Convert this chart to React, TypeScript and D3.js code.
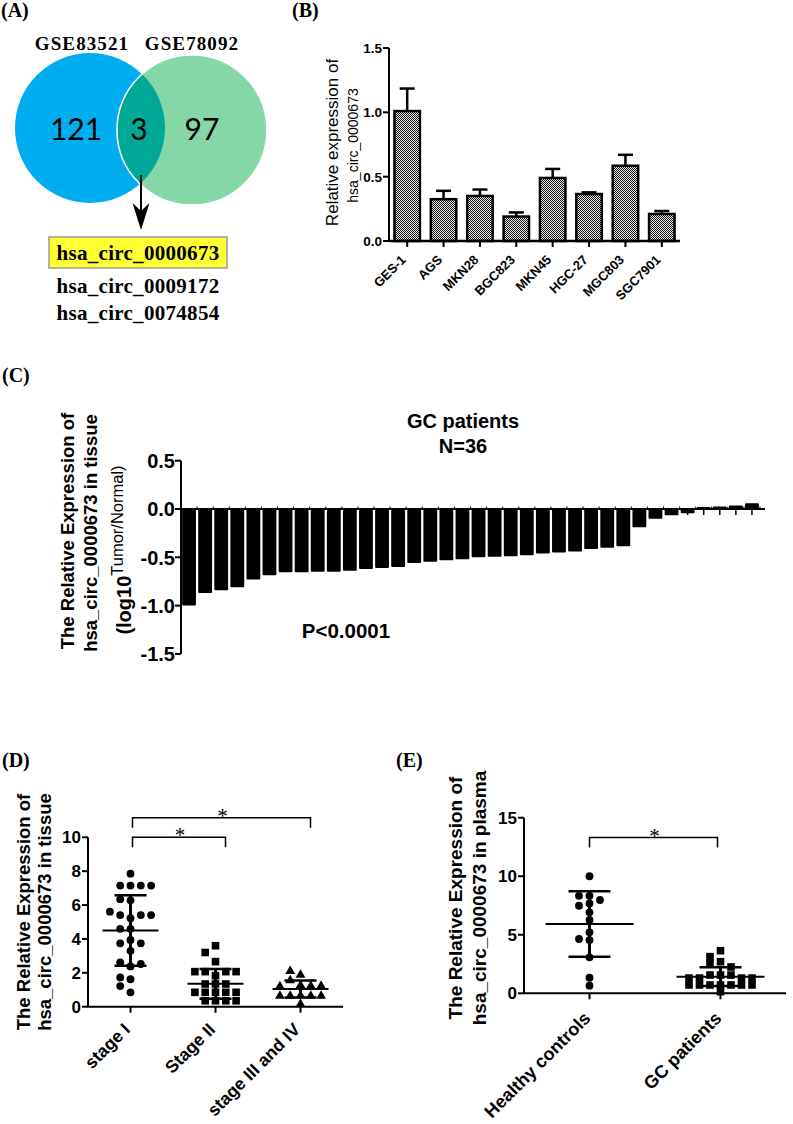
import React from 'react';
import * as d3 from 'd3';

const SANS = '"Liberation Sans", Arial, sans-serif';
const SERIF = '"Liberation Serif", "Times New Roman", serif';

// ---------- Panel A : Venn ----------
const vennSets = ['GSE83521', 'GSE78092'];
const vennOnly = [121, 97];
const vennShared = 3;
const sharedCircRNAs = ['hsa_circ_0000673', 'hsa_circ_0009172', 'hsa_circ_0074854'];

// ---------- Panel B : cell lines ----------
const cellLines = ['GES-1', 'AGS', 'MKN28', 'BGC823', 'MKN45', 'HGC-27', 'MGC803', 'SGC7901'];
const cellExpr = [1.01, 0.325, 0.35, 0.19, 0.49, 0.365, 0.585, 0.21];
const cellErr = [0.175, 0.065, 0.05, 0.032, 0.07, 0.013, 0.085, 0.023];
const cellTicks = [0, 0.5, 1.0, 1.5];

// ---------- Panel C : tissue log10 ratio ----------
const tissueLogRatio = [
  -1.0, -0.87, -0.84, -0.81, -0.73, -0.685, -0.655, -0.655, -0.65, -0.65, -0.64, -0.62,
  -0.61, -0.6, -0.56, -0.545, -0.53, -0.52, -0.5, -0.495, -0.49, -0.48, -0.46, -0.45,
  -0.44, -0.415, -0.4, -0.385, -0.19, -0.1, -0.065, -0.045, 0.02, 0.025, 0.035, 0.06,
];
const tissueTicks = [0.5, 0, -0.5, -1.0, -1.5];

// ---------- Panel D : stages ----------
const stageNames = ['stage I', 'Stage II', 'stage III and IV'];
const stageI = [7.85, 7.15, 7.15, 7.15, 7.15, 6.28, 6.35, 5.22, 5.41, 5.41, 5.41, 5.61, 4.6, 4.6,
  3.94, 3.74, 3.74, 3.3, 2.38, 2.62, 2.52, 1.62, 1.73, 1.22, 0.85];
const stageII = [3.6, 3.2, 2.66, 1.83, 2.07, 2.07, 2.07, 2.07, 1.34, 1.34, 1.34,
  0.85, 0.85, 0.85, 0.85, 0.85, 0.35, 0.35, 0.35, 0.35];
const stageIIIIV = [1.87, 2.1, 1.55, 1.25, 1.22, 1.22, 1.2, 0.65, 0.63, 0.63, 0.63, 0.63, 0.15];
const stageMeans = [4.5, 1.35, 1.05];
const stageSDs = [2.08, 0.88, 0.5];
const stageTicks = [0, 2, 4, 6, 8, 10];
const stageBrackets = [
  { from: 0, to: 1, level: 10.0 },
  { from: 0, to: 2, level: 11.16 },
];

// ---------- Panel E : plasma ----------
const plasmaGroups = ['Healthy controls', 'GC patients'];
const healthyPlasma = [10.0, 8.33, 8.33, 7.97, 7.68, 7.48, 6.92, 6.26, 5.21, 4.55, 4.64, 3.07, 1.33, 0.65];
const gcPlasma = [3.64, 3.13, 2.7, 2.56, 2.25, 1.56, 1.56, 1.56, 1.3, 1.3, 1.3, 1.3,
  0.71, 0.71, 0.71, 0.71, 0.71, 0.71, 0.71, 0.14];
const plasmaMeans = [5.92, 1.42];
const plasmaSDs = [2.8, 0.8];
const plasmaTicks = [0, 5, 10, 15];
const plasmaBrackets = [{ from: 0, to: 1, level: 13.3 }];

// simple column swarm (GraphPad-like)
function swarm(values: number[], y: (v: number) => number, cx: number, step: number, minDist: number) {
  const order = [0, -1, 1, 2, -2, 3, -3, 4, -4];
  const placed: { k: number; y: number }[] = [];
  return values.map((v) => {
    const py = y(v);
    for (const k of order) {
      if (!placed.some((p) => p.k === k && Math.abs(p.y - py) < minDist)) {
        placed.push({ k, y: py });
        return { x: cx + k * step, y: py };
      }
    }
    return { x: cx, y: py };
  });
}

function PanelLabel({ x, y, t }: { x: number; y: number; t: string }) {
  return (
    <text x={x} y={y} fontFamily={SERIF} fontWeight="bold" fontSize={20}>{t}</text>
  );
}

function PanelA() {
  const blue = { cx: 90, cy: 128, r: 75 };
  const green = { cx: 192, cy: 130, r: 75 };
  const lensX = (green.cx - green.r + blue.cx + blue.r) / 2;
  const numFont = "Lato, 'Open Sans', sans-serif";
  return (
    <g>
      <defs>
        <clipPath id="clipGreen">
          <circle cx={green.cx} cy={green.cy} r={green.r} />
        </clipPath>
      </defs>
      <circle {...blue} fill="#00AEEF" />
      <circle {...green} fill="#86D7A8" />
      <circle {...blue} fill="#00A896" clipPath="url(#clipGreen)" />
      <circle {...green} fill="none" stroke="#ffffff" strokeWidth={1.5} />
      <text x={82} y={50} textAnchor="middle" fontFamily={SERIF} fontWeight="bold" fontSize={19} letterSpacing={1.1}>{vennSets[0]}</text>
      <text x={192} y={50} textAnchor="middle" fontFamily={SERIF} fontWeight="bold" fontSize={19} letterSpacing={1.1}>{vennSets[1]}</text>
      <text x={76} y={140} textAnchor="middle" fontFamily={numFont} fontSize={30}>{vennOnly[0]}</text>
      <text x={139} y={140} textAnchor="middle" fontFamily={numFont} fontSize={30}>{vennShared}</text>
      <text x={202} y={140} textAnchor="middle" fontFamily={numFont} fontSize={30}>{vennOnly[1]}</text>
      <line x1={lensX} x2={lensX} y1={175} y2={214} stroke="#000" strokeWidth={2} />
      <path d={`M${lensX - 8.5},203 L${lensX},230 L${lensX + 8.5},203 L${lensX},211 Z`} fill="#000" />
      <rect x={49} y={237} width={178} height={31} fill="#FFFF33" stroke="#9a9a9a" strokeWidth={1.5} />
      {sharedCircRNAs.map((s, i) => (
        <text key={s} x={138} y={[259.5, 292.5, 319.5][i]} textAnchor="middle" fontFamily={SERIF} fontWeight="bold" fontSize={21} letterSpacing={0.3}>{s}</text>
      ))}
    </g>
  );
}

function PanelB() {
  const x0 = 389, x1 = 680, y0 = 241, y1 = 48;
  const bx = d3.scaleBand<string>().domain(cellLines).range([x0, x1]).paddingInner(0.3).paddingOuter(0.15);
  const by = d3.scaleLinear().domain([0, 1.5]).range([y0, y1]);
  const bw = bx.bandwidth();
  return (
    <g>
      <defs>
        <pattern id="hatch" width={2} height={2} patternUnits="userSpaceOnUse">
          <rect width={2} height={2} fill="#eeeeee" />
          <rect width={1} height={1} fill="#111" />
          <rect x={1} y={1} width={1} height={1} fill="#111" />
        </pattern>
      </defs>
      {cellLines.map((c, i) => {
        const x = bx(c)!;
        const cx = x + bw / 2;
        const top = by(cellExpr[i] + cellErr[i]);
        return (
          <g key={c}>
            <line x1={cx} x2={cx} y1={by(cellExpr[i])} y2={top} stroke="#000" strokeWidth={2.5} />
            <line x1={cx - 7.5} x2={cx + 7.5} y1={top} y2={top} stroke="#000" strokeWidth={2.5} />
            <rect x={x} y={by(cellExpr[i])} width={bw} height={y0 - by(cellExpr[i])} fill="url(#hatch)" stroke="#000" strokeWidth={2.5} />
          </g>
        );
      })}
      <line x1={x0} x2={x0} y1={y1} y2={y0} stroke="#000" strokeWidth={2} />
      <line x1={x0} x2={x1} y1={y0} y2={y0} stroke="#000" strokeWidth={2.5} />
      {cellTicks.map((t) => (
        <g key={t}>
          <line x1={x0 - 6} x2={x0} y1={by(t)} y2={by(t)} stroke="#000" strokeWidth={2} />
          <text x={x0 - 7} y={by(t)} dy="0.36em" textAnchor="end" fontFamily={SANS} fontWeight="bold" fontSize={13.5}>{d3.format('.1f')(t)}</text>
        </g>
      ))}
      {cellLines.map((c) => {
        const cx = bx(c)! + bw / 2;
        return (
          <g key={c}>
            <line x1={cx} x2={cx} y1={y0} y2={y0 + 6} stroke="#000" strokeWidth={2} />
            <text transform={`translate(${cx - 7},${y0 + 13}) rotate(-45)`} dy="0.71em" textAnchor="end" fontFamily={SANS} fontWeight="bold" fontSize={13}>{c}</text>
          </g>
        );
      })}
      <text transform="translate(338,142.5) rotate(-90)" textAnchor="middle" fontFamily={SANS} fontSize={17}>Relative expression of</text>
      <text transform="translate(358,145.5) rotate(-90)" textAnchor="middle" fontFamily={SANS} fontSize={14}>hsa_circ_0000673</text>
    </g>
  );
}

function PanelC() {
  const x0 = 181, x1 = 765;
  const cx = d3.scaleBand<number>().domain(d3.range(tissueLogRatio.length)).range([x0, 760]).paddingInner(0.14).paddingOuter(0.07);
  const cy = d3.scaleLinear().domain([-1.5, 0.5]).range([653.9, 460.7]);
  const bw = cx.bandwidth();
  const step = cx.step();
  const z = cy(0);
  return (
    <g>
      {tissueLogRatio.map((v, i) => (
        <line key={'t' + i} x1={cx(i)! + bw / 2} x2={cx(i)! + bw / 2} y1={z} y2={z + 6} stroke="#000" strokeWidth={1.5} />
      ))}
      {tissueLogRatio.map((v, i) => (
        <line key={'m' + i} x1={cx(i)! + bw + (step - bw) / 2} x2={cx(i)! + bw + (step - bw) / 2} y1={z - 2.5} y2={z} stroke="#000" strokeWidth={1} />
      ))}
      {tissueLogRatio.map((v, i) => (
        <rect key={i} x={cx(i)!} y={Math.min(cy(v), z)} width={bw} height={Math.abs(cy(v) - z)} rx={1} fill="#000" />
      ))}
      <line x1={x0} x2={x1} y1={z} y2={z} stroke="#000" strokeWidth={2} />
      <line x1={x0} x2={x0} y1={cy(0.5)} y2={cy(-1.5)} stroke="#000" strokeWidth={2} />
      {tissueTicks.map((t) => (
        <g key={t}>
          <line x1={x0 - 6} x2={x0} y1={cy(t)} y2={cy(t)} stroke="#000" strokeWidth={2} />
          <text x={x0 - 6} y={cy(t)} dy="0.36em" textAnchor="end" fontFamily={SANS} fontWeight="bold" fontSize={20}>{d3.format('.1f')(t).replace('\u2212', '-')}</text>
        </g>
      ))}
      <text x={463} y={428} textAnchor="middle" fontFamily={SANS} fontWeight="bold" fontSize={20}>GC patients</text>
      <text x={463} y={453} textAnchor="middle" fontFamily={SANS} fontWeight="bold" fontSize={20}>N=36</text>
      <text x={346} y={638} textAnchor="middle" fontFamily={SANS} fontWeight="bold" fontSize={20.5}>P&lt;0.0001</text>
      <text transform="translate(73.5,531) rotate(-90)" textAnchor="middle" fontFamily={SANS} fontWeight="bold" fontSize={18.5}>The Relative Expression of</text>
      <text transform="translate(96.5,533) rotate(-90)" textAnchor="middle" fontFamily={SANS} fontWeight="bold" fontSize={18.5}>hsa_circ_0000673 in tissue</text>
      <text transform="translate(131,550) rotate(-90)" textAnchor="middle" fontFamily={SANS} fontWeight="bold" fontSize={20}>
        <tspan>(log10</tspan>
        <tspan dy={-8} fontSize={16.5} fontWeight="normal">Tumor/Normal)</tspan>
      </text>
    </g>
  );
}

type Group = { values: number[]; marker: 'circle' | 'square' | 'triangle' };

function Marker({ x, y, kind }: { x: number; y: number; kind: string }) {
  if (kind === 'circle') return <circle cx={x} cy={y} r={3.9} fill="#000" />;
  if (kind === 'square') return <rect x={x - 3.8} y={y - 3.8} width={7.6} height={7.6} fill="#000" />;
  const p = d3.symbol().type(d3.symbolTriangle).size(42)()!;
  return <path d={p} transform={`translate(${x},${y})`} fill="#000" />;
}

function ScatterPanel(props: {
  groups: Group[]; names: string[]; means: number[]; sds: number[]; ticks: number[];
  x0: number; x1: number; yBottom: number; yTop: number; domainMax: number;
  meanHalf: number; sdHalf: number; step: number; minDist: number;
  brackets: { from: number; to: number; level: number }[]; bracketOffsets: [number, number];
  labelFont: number; labelDx: number; labelDy: number; tickFont: number;
  titleLines: string[]; titleX: number[]; titleY: number; titleFont: number;
}) {
  const { groups, names, means, sds, ticks, x0, x1, yBottom, yTop, domainMax } = props;
  const sx = d3.scaleBand<string>().domain(names).range([x0, x1]);
  const sy = d3.scaleLinear().domain([0, domainMax]).range([yBottom, yTop]);
  const c = (i: number) => sx(names[i])! + sx.bandwidth() / 2;
  return (
    <g>
      {groups.map((g, i) => {
        const pts = swarm(g.values, sy, c(i), props.step, props.minDist);
        return pts.map((p, j) => <Marker key={i + '-' + j} x={p.x} y={p.y} kind={g.marker} />);
      })}
      {means.map((m, i) => {
        const cxp = c(i);
        return (
          <g key={'e' + i}>
            <line x1={cxp - props.meanHalf} x2={cxp + props.meanHalf} y1={sy(m)} y2={sy(m)} stroke="#000" strokeWidth={2} />
            <line x1={cxp - props.sdHalf} x2={cxp + props.sdHalf} y1={sy(m + sds[i])} y2={sy(m + sds[i])} stroke="#000" strokeWidth={2.5} />
            <line x1={cxp - props.sdHalf} x2={cxp + props.sdHalf} y1={sy(m - sds[i])} y2={sy(m - sds[i])} stroke="#000" strokeWidth={2.5} />
            <line x1={cxp} x2={cxp} y1={sy(m - sds[i])} y2={sy(m + sds[i])} stroke="#000" strokeWidth={3} />
          </g>
        );
      })}
      <line x1={x0} x2={x0} y1={yTop} y2={yBottom} stroke="#000" strokeWidth={2} />
      <line x1={x0} x2={x1} y1={yBottom} y2={yBottom} stroke="#000" strokeWidth={2} />
      {ticks.map((t) => (
        <g key={t}>
          <line x1={x0 - 6} x2={x0} y1={sy(t)} y2={sy(t)} stroke="#000" strokeWidth={2} />
          <text x={x0 - 7} y={sy(t)} dy="0.36em" textAnchor="end" fontFamily={SANS} fontWeight="bold" fontSize={props.tickFont}>{t}</text>
        </g>
      ))}
      {names.map((n, i) => (
        <g key={n}>
          <line x1={c(i)} x2={c(i)} y1={yBottom} y2={yBottom + 6} stroke="#000" strokeWidth={2} />
          <text transform={`translate(${c(i) + props.labelDx},${yBottom + props.labelDy}) rotate(-45)`} dy="0.71em" textAnchor="end" fontFamily={SANS} fontWeight="bold" fontSize={props.labelFont}>{n}</text>
        </g>
      ))}
      {props.brackets.map((b, i) => {
        const xl = c(b.from) + props.bracketOffsets[0];
        const xr = c(b.to) + props.bracketOffsets[1];
        const yt = sy(b.level);
        return (
          <g key={'b' + i}>
            <path d={`M${xl},${yt + 10} V${yt} H${xr} V${yt + 10}`} fill="none" stroke="#000" strokeWidth={1.5} />
            <text x={(xl + xr) / 2 + 1} y={yt + 5} textAnchor="middle" fontFamily={SERIF} fontSize={21}>*</text>
          </g>
        );
      })}
      {props.titleLines.map((t, i) => (
        <text key={t} transform={`translate(${props.titleX[i]},${props.titleY}) rotate(-90)`} textAnchor="middle" fontFamily={SANS} fontWeight="bold" fontSize={props.titleFont}>{t}</text>
      ))}
    </g>
  );
}

export default function App() {
  return (
    <svg width={793} height={1124} style={{ position: 'absolute', left: 0, top: 0, background: '#fff' }} xmlns="http://www.w3.org/2000/svg">
      <rect width={793} height={1124} fill="#fff" />
      <PanelLabel x={1} y={17} t="(A)" />
      <PanelLabel x={292} y={17} t="(B)" />
      <PanelLabel x={2} y={382} t="(C)" />
      <PanelLabel x={2} y={767} t="(D)" />
      <PanelLabel x={396} y={767} t="(E)" />
      <PanelA />
      <PanelB />
      <PanelC />
      <ScatterPanel
        groups={[{ values: stageI, marker: 'circle' }, { values: stageII, marker: 'square' }, { values: stageIIIIV, marker: 'triangle' }]}
        names={stageNames} means={stageMeans} sds={stageSDs} ticks={stageTicks}
        x0={88} x1={343} yBottom={1006.7} yTop={837.3} domainMax={10}
        meanHalf={28} sdHalf={16} step={10.3} minDist={8}
        brackets={stageBrackets} bracketOffsets={[2, 10]}
        labelFont={17.5} labelDx={-8} labelDy={15} tickFont={17}
        titleLines={['The Relative Expression of', 'hsa_circ_0000673 in tissue']} titleX={[30, 51]} titleY={912} titleFont={18.5}
      />
      <ScatterPanel
        groups={[{ values: healthyPlasma, marker: 'circle' }, { values: gcPlasma, marker: 'square' }]}
        names={plasmaGroups} means={plasmaMeans} sds={plasmaSDs} ticks={plasmaTicks}
        x0={524} x1={786} yBottom={993.3} yTop={817.7} domainMax={15}
        meanHalf={44} sdHalf={21} step={10.5} minDist={6.5}
        brackets={plasmaBrackets} bracketOffsets={[0, -3]}
        labelFont={18} labelDx={-7} labelDy={17} tickFont={17}
        titleLines={['The Relative Expression of', 'hsa_circ_0000673 in plasma']} titleX={[462, 485.5]} titleY={898} titleFont={19}
      />
    </svg>
  );
}
